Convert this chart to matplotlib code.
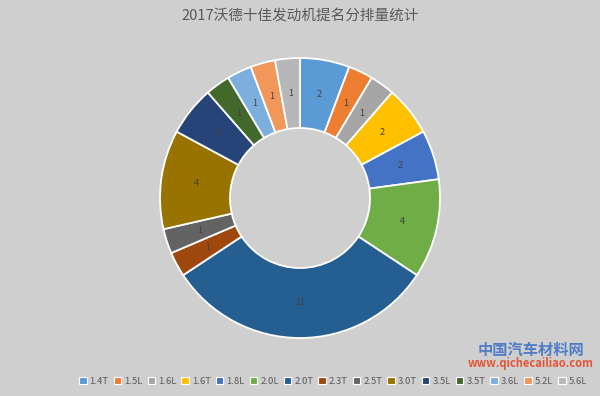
import matplotlib
matplotlib.use("Agg")
import matplotlib.pyplot as plt
from matplotlib.patches import Patch

plt.rcParams['font.family'] = ['Noto Sans CJK SC', 'DejaVu Sans']

labels = ["1.4T", "1.5L", "1.6L", "1.6T", "1.8L", "2.0L", "2.0T", "2.3T",
          "2.5T", "3.0T", "3.5L", "3.5T", "3.6L", "5.2L", "5.6L"]
values = [2, 1, 1, 2, 2, 4, 11, 1, 1, 4, 2, 1, 1, 1, 1]
colors = ["#5B9BD5", "#ED7D31", "#A5A5A5", "#FFC000", "#4472C4", "#70AD47",
          "#255E91", "#9E480E", "#636363", "#997300", "#264478", "#43682B",
          "#7CAFDD", "#F1975A", "#B7B7B7"]
title = "2017沃德十佳发动机提名分排量统计"

bg = "#D0CFCF"
fig = plt.figure(figsize=(6, 3.96), dpi=100, facecolor=bg)
ax = fig.add_axes([160/600, (396-338)/396, 280/600, 280/396])
ax.set_facecolor(bg)
wedges, texts = ax.pie(values, colors=colors, startangle=90, counterclock=False,
                       radius=1.0, labels=[str(v) for v in values],
                       labeldistance=0.75,
                       wedgeprops=dict(width=0.5, edgecolor="white", linewidth=1.3),
                       textprops=dict(color="#404040", fontsize=6.5))
for t in texts:
    t.set_horizontalalignment("center")
    t.set_verticalalignment("center")
ax.set_xlim(-1, 1)
ax.set_ylim(-1, 1)
ax.set_aspect("equal")
ax.axis("off")

fig.text(0.5, 1 - 16/396, title, ha="center", va="center", fontsize=10.5, color="#595959")

handles = [Patch(facecolor=c, edgecolor="white", linewidth=0.8) for c in colors]
fig.legend(handles, labels, loc="center", bbox_to_anchor=(0.555, 1 - 381/396),
           ncol=15, fontsize=6.8, frameon=False, handlelength=0.8, handleheight=0.8,
           handletextpad=0.3, columnspacing=0.55, labelcolor="#595959")

fig.text(0.885, 1 - 350/396, "中国汽车材料网", ha="center", va="center", fontsize=11,
         color="#3A6FC4", fontweight="bold", alpha=0.85)
fig.text(0.885, 1 - 364/396, "www.qichecailiao.com", ha="center", va="center", fontsize=8,
         color="#E8401C", fontweight="bold", alpha=0.85)

fig.savefig("out.png", dpi=100, facecolor=bg)
